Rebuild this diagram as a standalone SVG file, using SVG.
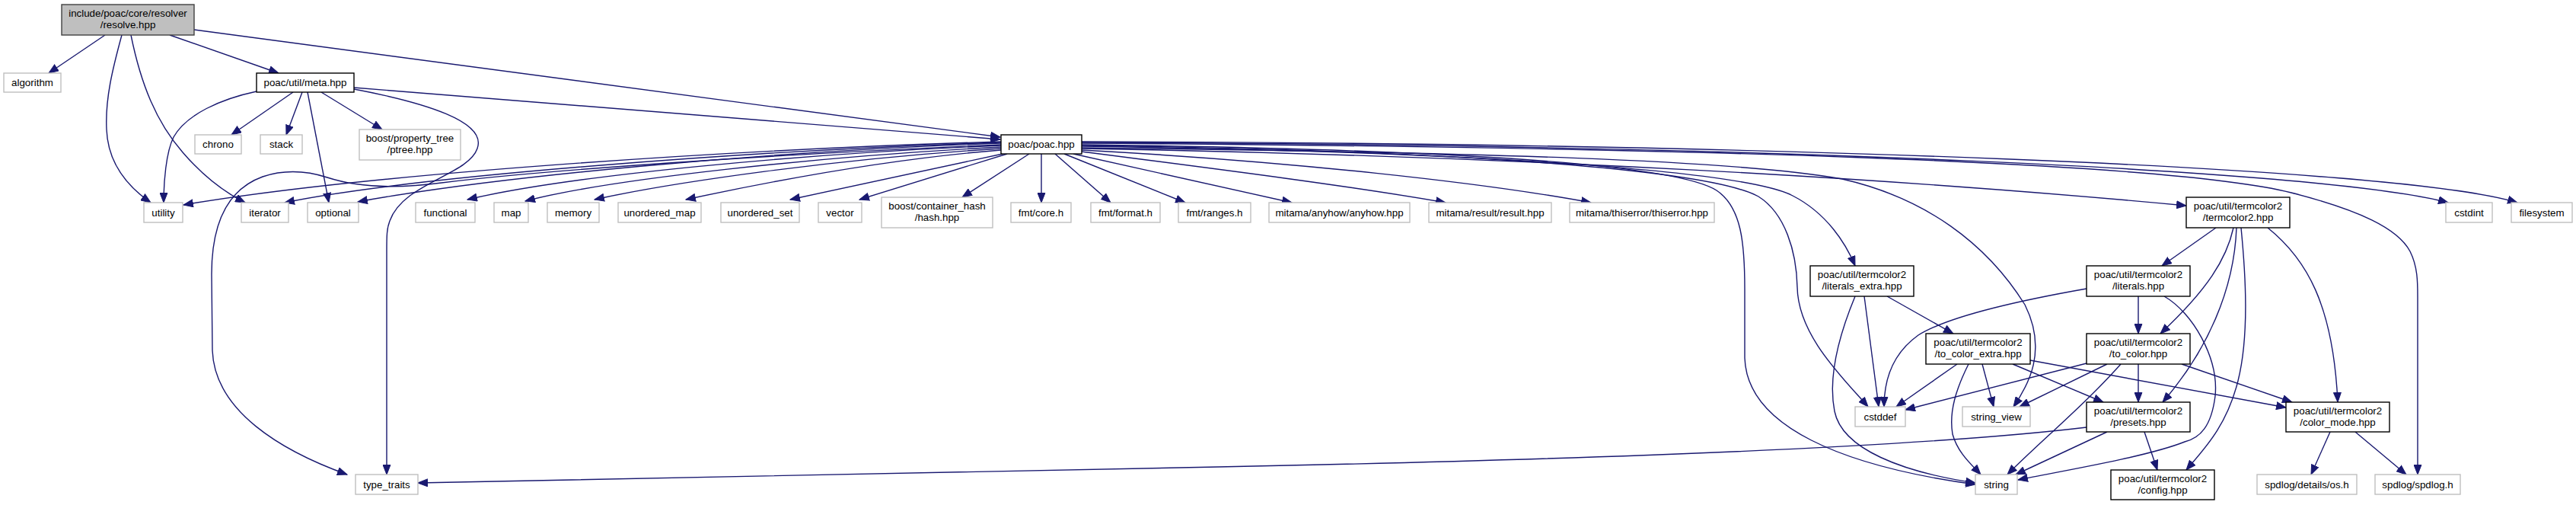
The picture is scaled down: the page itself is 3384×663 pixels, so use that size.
<svg xmlns="http://www.w3.org/2000/svg" width="3384" height="663" viewBox="0 0 3384 663">
<style>
text{font-family:"Liberation Sans",Arial,Helvetica,sans-serif;font-size:13.33px;text-anchor:middle;fill:#000}
.n rect{fill:#fff;stroke:#bfbfbf;stroke-width:1.4}
.d rect{fill:#fff;stroke:#000;stroke-width:1.4}
.r rect{fill:#bfbfbf;stroke:#404040;stroke-width:1.4}
#edges path{fill:none;stroke:#191970;stroke-width:1.4;marker-end:url(#a)}
</style>
<defs>
<marker id="a" markerUnits="userSpaceOnUse" viewBox="0 0 14 11" markerWidth="14" markerHeight="11" refX="13" refY="5.5" orient="auto">
<path d="M0.5,0.6 L13,5.5 L0.5,10.4 z" fill="#191970" stroke="#191970" stroke-width="1"/>
</marker>
</defs>
<rect width="3384" height="663" fill="#fff"/>
<g id="edges">
<path d="M138,46 L64,96"/>
<path d="M160,46 C148,90 138,130 140,170 C142,220 175,250 198,266"/>
<path d="M172,46 C185,110 205,160 240,200 C270,235 300,255 322,266"/>
<path d="M223,46 L366,96"/>
<path d="M255,39 L1314,180"/>
<path d="M337,120 C290,130 245,150 228,180 C218,200 215,240 215,266"/>
<path d="M385,121 L304,177"/>
<path d="M397,121 L376,177"/>
<path d="M404,121 L432,266"/>
<path d="M422,121 L502,170"/>
<path d="M465,115 L1314,183"/>
<path d="M465,117 C560,135 640,160 627,195 C615,230 530,240 512,290 C508,300 508,310 508,330 L508,623"/>
<path d="M1315,186 C1000,195 500,225 241,269"/>
<path d="M1315,187 C1000,197 550,230 374,266"/>
<path d="M1315,188 C1000,199 650,232 470,265"/>
<path d="M1315,190 C1000,203 700,225 580,240 C520,248 470,246 430,233 C405,225 375,222 345,232 C295,250 278,300 278,360 L279,460 C282,540 370,592 456,623"/>
<path d="M1315,191 C1050,202 750,230 614,262"/>
<path d="M1315,193 C1080,205 800,235 690,264"/>
<path d="M1315,195 C1100,208 880,240 781,262"/>
<path d="M1315,197 C1150,210 980,245 901,262"/>
<path d="M1317,202 L1038,262"/>
<path d="M1323,202 L1129,262"/>
<path d="M1352,202 L1264,259"/>
<path d="M1368,202 L1368,266"/>
<path d="M1386,202 L1459,266"/>
<path d="M1398,202 L1557,266"/>
<path d="M1410,202 L1697,266"/>
<path d="M1421,199 C1600,222 1780,245 1899,266"/>
<path d="M1421,197 C1700,212 1950,240 2090,266"/>
<path d="M1421,190 C1900,196 2200,215 2255,250 C2288,272 2292,320 2292,380 L2292,470 C2295,560 2420,612 2595,636"/>
<path d="M1421,191 C1950,198 2250,225 2310,258 C2345,280 2360,330 2361,377 C2362,440 2420,495 2454,534"/>
<path d="M1421,192 C2000,200 2300,228 2355,257 C2400,280 2425,320 2437,349"/>
<path d="M1421,194 C1950,200 2280,210 2420,235 C2530,260 2610,320 2660,400 C2690,460 2665,505 2645,534"/>
<path d="M1421,195 C2000,205 2500,235 2872,270"/>
<path d="M1421,188 C2200,193 2850,212 3010,253 C3100,276 3150,300 3166,330 C3176,350 3176,370 3176,390 L3176,623"/>
<path d="M1421,187 C2300,190 3050,222 3216,266"/>
<path d="M1421,186 C2300,188 3150,218 3307,266"/>
<path d="M2911,299 L2840,349"/>
<path d="M2934,299 C2925,340 2900,380 2838,438"/>
<path d="M2938,299 C2935,380 2900,460 2841,528"/>
<path d="M2944,299 C2950,360 2955,440 2940,500 C2925,560 2895,590 2872,617"/>
<path d="M2979,299 C3030,340 3065,400 3071,528"/>
<path d="M2809,389 L2809,438"/>
<path d="M2843,389 C2880,410 2915,470 2910,520 C2905,560 2890,575 2870,580 C2820,600 2700,620 2651,630"/>
<path d="M2741,379 C2650,395 2560,415 2520,440 C2485,465 2475,500 2475,534"/>
<path d="M2809,478 L2809,528"/>
<path d="M2866,478 L3011,528"/>
<path d="M2741,477 L2503,538"/>
<path d="M2768,478 L2653,534"/>
<path d="M2786,478 C2740,530 2680,580 2637,623"/>
<path d="M2571,478 L2491,534"/>
<path d="M2586,478 C2570,510 2560,540 2565,570 C2572,595 2590,610 2602,623"/>
<path d="M2604,478 L2619,534"/>
<path d="M2644,478 L2763,528"/>
<path d="M2667,473 L3003,535"/>
<path d="M2449,389 L2468,534"/>
<path d="M2437,389 C2420,430 2400,490 2410,540 C2420,590 2500,620 2595,634"/>
<path d="M2479,389 L2566,438"/>
<path d="M2817,567 L2834,617"/>
<path d="M2768,567 L2648,623"/>
<path d="M2741,561 C2500,590 2000,605 1600,613 C1200,620 800,630 549,634"/>
<path d="M3061,567 L3036,623"/>
<path d="M3094,567 L3161,623"/>
</g>
<g id="node_root" class="r"><rect x="81" y="6" width="174" height="40"/><text x="168" y="22.3">include/poac/core/resolver</text><text x="168" y="37.1">/resolve.hpp</text></g>
<g id="node_algorithm" class="n"><rect x="5" y="96" width="75" height="25"/><text x="42.5" y="113">algorithm</text></g>
<g id="node_meta" class="d"><rect x="337" y="96" width="128" height="25"/><text x="401" y="113">poac/util/meta.hpp</text></g>
<g id="node_chrono" class="n"><rect x="256" y="177" width="61" height="25"/><text x="286.5" y="194">chrono</text></g>
<g id="node_stack" class="n"><rect x="342" y="177" width="55" height="25"/><text x="369.5" y="194">stack</text></g>
<g id="node_ptree" class="n"><rect x="472" y="170" width="133" height="40"/><text x="538.5" y="186.3">boost/property_tree</text><text x="538.5" y="201.1">/ptree.hpp</text></g>
<g id="node_poac" class="d"><rect x="1315" y="177" width="106" height="25"/><text x="1368" y="194">poac/poac.hpp</text></g>
<g id="node_utility" class="n"><rect x="189" y="266" width="51" height="26"/><text x="214.5" y="283.5">utility</text></g>
<g id="node_iterator" class="n"><rect x="317" y="266" width="62" height="26"/><text x="348" y="283.5">iterator</text></g>
<g id="node_optional" class="n"><rect x="404" y="266" width="67" height="26"/><text x="437.5" y="283.5">optional</text></g>
<g id="node_functional" class="n"><rect x="546" y="266" width="78" height="26"/><text x="585" y="283.5">functional</text></g>
<g id="node_map" class="n"><rect x="649" y="266" width="45" height="26"/><text x="671.5" y="283.5">map</text></g>
<g id="node_memory" class="n"><rect x="719" y="266" width="68" height="26"/><text x="753" y="283.5">memory</text></g>
<g id="node_unordered_map" class="n"><rect x="812" y="266" width="109" height="26"/><text x="866.5" y="283.5">unordered_map</text></g>
<g id="node_unordered_set" class="n"><rect x="947" y="266" width="103" height="26"/><text x="998.5" y="283.5">unordered_set</text></g>
<g id="node_vector" class="n"><rect x="1075" y="266" width="57" height="26"/><text x="1103.5" y="283.5">vector</text></g>
<g id="node_hash" class="n"><rect x="1158" y="259" width="146" height="40"/><text x="1231" y="275.3">boost/container_hash</text><text x="1231" y="290.1">/hash.hpp</text></g>
<g id="node_fmt_core" class="n"><rect x="1328" y="266" width="79" height="26"/><text x="1367.5" y="283.5">fmt/core.h</text></g>
<g id="node_fmt_format" class="n"><rect x="1433" y="266" width="91" height="26"/><text x="1478.5" y="283.5">fmt/format.h</text></g>
<g id="node_fmt_ranges" class="n"><rect x="1548" y="266" width="95" height="26"/><text x="1595.5" y="283.5">fmt/ranges.h</text></g>
<g id="node_anyhow" class="n"><rect x="1667" y="266" width="185" height="26"/><text x="1759.5" y="283.5">mitama/anyhow/anyhow.hpp</text></g>
<g id="node_result" class="n"><rect x="1877" y="266" width="161" height="26"/><text x="1957.5" y="283.5">mitama/result/result.hpp</text></g>
<g id="node_thiserror" class="n"><rect x="2062" y="266" width="190" height="26"/><text x="2157" y="283.5">mitama/thiserror/thiserror.hpp</text></g>
<g id="node_termcolor2" class="d"><rect x="2872" y="259" width="136" height="40"/><text x="2940" y="275.3">poac/util/termcolor2</text><text x="2940" y="290.1">/termcolor2.hpp</text></g>
<g id="node_cstdint" class="n"><rect x="3213" y="266" width="61" height="26"/><text x="3243.5" y="283.5">cstdint</text></g>
<g id="node_filesystem" class="n"><rect x="3299" y="266" width="80" height="26"/><text x="3339" y="283.5">filesystem</text></g>
<g id="node_literals_extra" class="d"><rect x="2378" y="349" width="136" height="40"/><text x="2446" y="365.3">poac/util/termcolor2</text><text x="2446" y="380.1">/literals_extra.hpp</text></g>
<g id="node_literals" class="d"><rect x="2741" y="349" width="136" height="40"/><text x="2809" y="365.3">poac/util/termcolor2</text><text x="2809" y="380.1">/literals.hpp</text></g>
<g id="node_to_color_extra" class="d"><rect x="2530" y="438" width="137" height="40"/><text x="2598.5" y="454.3">poac/util/termcolor2</text><text x="2598.5" y="469.1">/to_color_extra.hpp</text></g>
<g id="node_to_color" class="d"><rect x="2741" y="438" width="136" height="40"/><text x="2809" y="454.3">poac/util/termcolor2</text><text x="2809" y="469.1">/to_color.hpp</text></g>
<g id="node_cstddef" class="n"><rect x="2437" y="534" width="66" height="26"/><text x="2470" y="551.5">cstddef</text></g>
<g id="node_string_view" class="n"><rect x="2578" y="534" width="89" height="26"/><text x="2622.5" y="551.5">string_view</text></g>
<g id="node_presets" class="d"><rect x="2741" y="528" width="136" height="39"/><text x="2809" y="544">poac/util/termcolor2</text><text x="2809" y="558.8">/presets.hpp</text></g>
<g id="node_color_mode" class="d"><rect x="3003" y="528" width="136" height="39"/><text x="3071" y="544">poac/util/termcolor2</text><text x="3071" y="558.8">/color_mode.hpp</text></g>
<g id="node_type_traits" class="n"><rect x="467" y="623" width="82" height="26"/><text x="508" y="640.5">type_traits</text></g>
<g id="node_string" class="n"><rect x="2595" y="623" width="55" height="26"/><text x="2622.5" y="640.5">string</text></g>
<g id="node_config" class="d"><rect x="2773" y="617" width="136" height="39"/><text x="2841" y="633">poac/util/termcolor2</text><text x="2841" y="647.8">/config.hpp</text></g>
<g id="node_os" class="n"><rect x="2965" y="623" width="131" height="26"/><text x="3030.5" y="640.5">spdlog/details/os.h</text></g>
<g id="node_spdlog" class="n"><rect x="3120" y="623" width="112" height="26"/><text x="3176" y="640.5">spdlog/spdlog.h</text></g>
</svg>
